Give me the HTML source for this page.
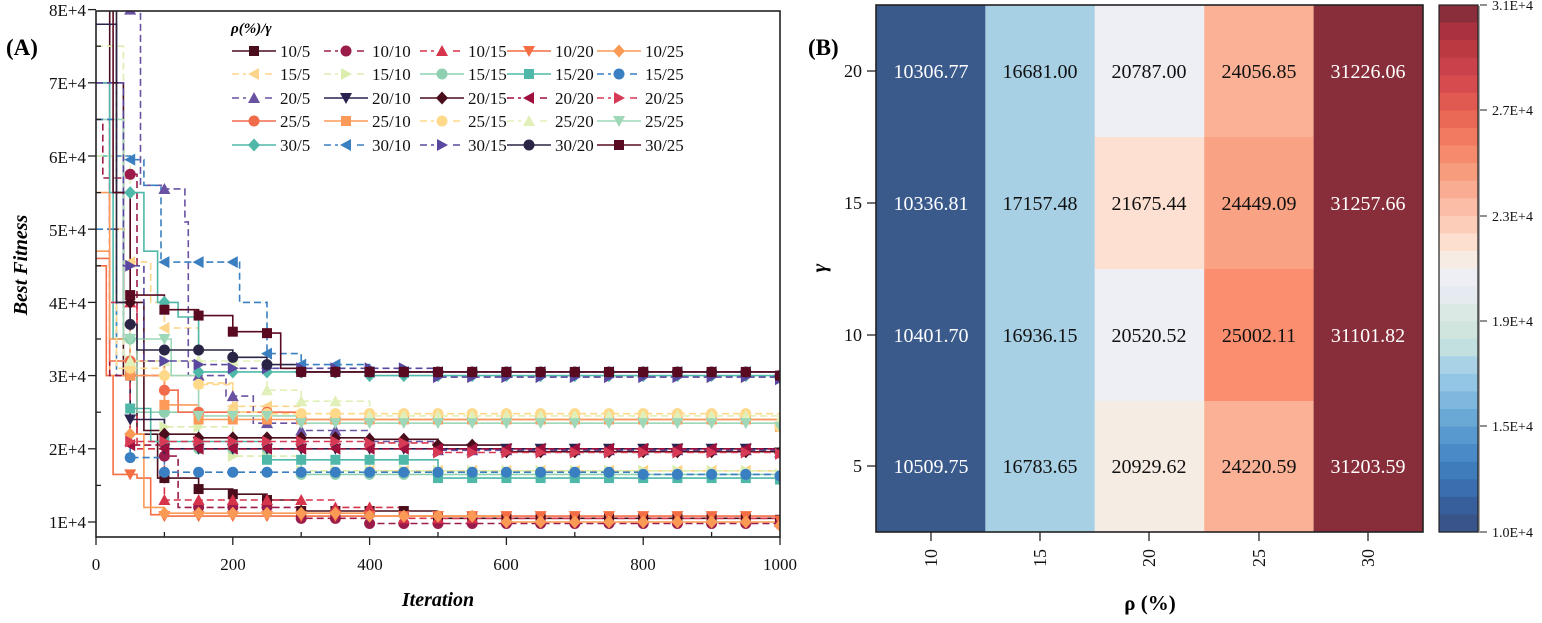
<!DOCTYPE html>
<html><head><meta charset="utf-8">
<style>
html,body{margin:0;padding:0;background:#fff;}
svg, svg text{font-family:"Liberation Serif","Times New Roman","DejaVu Serif",serif;}
</style></head>
<body>
<svg id="s" width="1542" height="618" viewBox="0 0 1542 618" xmlns="http://www.w3.org/2000/svg" font-family="Liberation Serif, DejaVu Serif, serif">
<defs><clipPath id="cp"><rect x="96" y="11" width="684" height="526"/></clipPath></defs>
<g id="series" clip-path="url(#cp)"></g>
<rect x="96" y="11" width="684" height="526" fill="none" stroke="#222" stroke-width="1.6"/>
<g id="ticks" stroke="#222" stroke-width="1.3"></g>
<g font-size="17" fill="#111" text-anchor="end">
<text x="86" y="16">8E+4</text><text x="86" y="89">7E+4</text><text x="86" y="163">6E+4</text><text x="86" y="236">5E+4</text><text x="86" y="309">4E+4</text><text x="86" y="382">3E+4</text><text x="86" y="455">2E+4</text><text x="86" y="528">1E+4</text>
</g>
<g font-size="17" fill="#111" text-anchor="middle">
<text x="96" y="570">0</text><text x="233" y="570">200</text><text x="370" y="570">400</text><text x="506" y="570">600</text><text x="643" y="570">800</text><text x="780" y="570">1000</text>
</g>
<text x="438" y="606" font-size="20" font-weight="bold" font-style="italic" text-anchor="middle">Iteration</text>
<text transform="translate(27,265) rotate(-90)" font-size="20" font-weight="bold" font-style="italic" text-anchor="middle">Best Fitness</text>
<text x="6" y="55" font-size="23" font-weight="bold">(A)</text>
<text x="231" y="33" font-size="15" font-weight="bold" font-style="italic">ρ(%)/γ</text>
<g id="legend" font-size="17" fill="#111">
<text x="280" y="57">10/5</text><text x="372" y="57">10/10</text><text x="468" y="57">10/15</text><text x="555" y="57">10/20</text><text x="645" y="57">10/25</text>
<text x="280" y="80">15/5</text><text x="372" y="80">15/10</text><text x="468" y="80">15/15</text><text x="555" y="80">15/20</text><text x="645" y="80">15/25</text>
<text x="280" y="104">20/5</text><text x="372" y="104">20/10</text><text x="468" y="104">20/15</text><text x="555" y="104">20/20</text><text x="645" y="104">20/25</text>
<text x="280" y="127">25/5</text><text x="372" y="127">25/10</text><text x="468" y="127">25/15</text><text x="555" y="127">25/20</text><text x="645" y="127">25/25</text>
<text x="280" y="151">30/5</text><text x="372" y="151">30/10</text><text x="468" y="151">30/15</text><text x="555" y="151">30/20</text><text x="645" y="151">30/25</text>
</g>
<g id="leglines"></g>

<text x="808" y="55" font-size="23" font-weight="bold">(B)</text>
<g>
<rect x="876" y="5" width="109.4" height="527" fill="#3a5a8c"/>
<rect x="985.4" y="5" width="109.4" height="527" fill="#a8d0e4"/>
<rect x="1094.8" y="5" width="109.4" height="132" fill="#eeeff4"/>
<rect x="1094.8" y="137" width="109.4" height="132" fill="#fde0d2"/>
<rect x="1094.8" y="269" width="109.4" height="132" fill="#eeeff4"/>
<rect x="1094.8" y="401" width="109.4" height="131" fill="#f5ece4"/>
<rect x="1204.2" y="5" width="109.4" height="132" fill="#fbb196"/>
<rect x="1204.2" y="137" width="109.4" height="132" fill="#f9a284"/>
<rect x="1204.2" y="269" width="109.4" height="132" fill="#fb8e6e"/>
<rect x="1204.2" y="401" width="109.4" height="131" fill="#fbb196"/>
<rect x="1313.6" y="5" width="109.4" height="527" fill="#872e3a"/>
<rect x="876" y="5" width="547" height="527" fill="none" stroke="#222" stroke-width="1.6"/>
</g>
<g font-size="20" text-anchor="middle">
<g fill="#fff"><text x="931" y="78">10306.77</text><text x="931" y="210">10336.81</text><text x="931" y="342">10401.70</text><text x="931" y="473">10509.75</text>
<text x="1368" y="78">31226.06</text><text x="1368" y="210">31257.66</text><text x="1368" y="342">31101.82</text><text x="1368" y="473">31203.59</text></g>
<g fill="#111"><text x="1040" y="78">16681.00</text><text x="1040" y="210">17157.48</text><text x="1040" y="342">16936.15</text><text x="1040" y="473">16783.65</text>
<text x="1149" y="78">20787.00</text><text x="1149" y="210">21675.44</text><text x="1149" y="342">20520.52</text><text x="1149" y="473">20929.62</text>
<text x="1259" y="78">24056.85</text><text x="1259" y="210">24449.09</text><text x="1259" y="342">25002.11</text><text x="1259" y="473">24220.59</text></g>
</g>
<g stroke="#222" stroke-width="1.3">
<line x1="867" y1="71" x2="876" y2="71"/><line x1="867" y1="203" x2="876" y2="203"/><line x1="867" y1="335" x2="876" y2="335"/><line x1="867" y1="466" x2="876" y2="466"/>
<line x1="931" y1="532" x2="931" y2="541"/><line x1="1040" y1="532" x2="1040" y2="541"/><line x1="1149" y1="532" x2="1149" y2="541"/><line x1="1259" y1="532" x2="1259" y2="541"/><line x1="1368" y1="532" x2="1368" y2="541"/>
</g>
<g font-size="18" fill="#111" text-anchor="end">
<text x="862" y="77">20</text><text x="862" y="209">15</text><text x="862" y="341">10</text><text x="862" y="472">5</text>
</g>
<g font-size="18" fill="#111" text-anchor="middle">
<text transform="translate(937,558) rotate(-90)">10</text>
<text transform="translate(1046,558) rotate(-90)">15</text>
<text transform="translate(1155,558) rotate(-90)">20</text>
<text transform="translate(1265,558) rotate(-90)">25</text>
<text transform="translate(1374,558) rotate(-90)">30</text>
</g>
<text x="1150" y="610" font-size="21" font-weight="bold" text-anchor="middle">ρ (%)</text>
<text transform="translate(826,268) rotate(-90)" font-size="21" font-weight="bold" font-style="italic" text-anchor="middle">γ</text>

<g id="cbar"></g>
<rect x="1478" y="6" width="2" height="527" fill="#aaa"/>
<rect x="1439" y="5" width="39" height="527" fill="none" stroke="#222" stroke-width="1.2"/>
<g stroke="#222" stroke-width="1"><line x1="1480" y1="5" x2="1487" y2="5"/><line x1="1480" y1="110" x2="1487" y2="110"/><line x1="1480" y1="216" x2="1487" y2="216"/><line x1="1480" y1="321" x2="1487" y2="321"/><line x1="1480" y1="426" x2="1487" y2="426"/><line x1="1480" y1="532" x2="1487" y2="532"/></g>
<g font-size="14" fill="#111">
<text x="1492" y="10">3.1E+4</text><text x="1492" y="115">2.7E+4</text><text x="1492" y="221">2.3E+4</text><text x="1492" y="326">1.9E+4</text><text x="1492" y="431">1.5E+4</text><text x="1492" y="537">1.0E+4</text>
</g>
</svg>
<script>
(function(){
var NS="http://www.w3.org/2000/svg";
function X(i){return 96+0.684*i;}
function Y(v){return 522-(v-10000)*0.00732;}
function el(t,a,p){var e=document.createElementNS(NS,t);for(var k in a)e.setAttribute(k,a[k]);p.appendChild(e);return e;}
var S=[
["#4a0d1c",0,"s",[[0,80000],[20,50000],[40,30000],[60,22000],[90,16000],[150,14500],[200,13800],[250,13000],[300,11500],[500,10500],[1000,10300]]],
["#9b1b4a",1,"c",[[0,65000],[10,57000],[50,57500],[60,30000],[100,19000],[120,12000],[300,10500],[400,9800],[1000,9700]]],
["#d6344a",1,"u",[[0,70000],[30,40000],[60,20000],[100,13000],[350,12000],[450,10500],[1000,10000]]],
["#f46d43",0,"d",[[0,45000],[15,30000],[25,16500],[60,16000],[80,11000],[100,10800],[1000,10200]]],
["#fb9a55",0,"m",[[0,47000],[20,30000],[50,22000],[70,12000],[100,11200],[400,10800],[600,10000],[1000,9500]]],
["#fdd58a",1,"l",[[0,80000],[30,50000],[50,45500],[80,40000],[100,36500],[150,29000],[200,25800],[300,20000],[400,17000],[1000,16500]]],
["#dcedb0",1,"r",[[0,75000],[40,32000],[100,23000],[200,19000],[300,17000],[1000,16500]]],
["#8fd0b0",0,"c",[[0,70000],[30,35000],[60,25000],[150,20000],[300,16500],[1000,16000]]],
["#4fb8a8",0,"s",[[0,60000],[25,35000],[50,25500],[80,21000],[250,18500],[500,16000],[1000,15800]]],
["#3a7fc1",1,"c",[[0,50000],[30,30000],[50,18800],[100,16800],[800,16500],[1000,16300]]],
["#6a52a3",1,"u",[[0,80000],[60,85000],[65,56000],[100,55500],[130,51000],[135,30000],[190,27200],[230,23500],[300,22500],[400,21000],[500,19800],[1000,19500]]],
["#2a2350",0,"d",[[0,78000],[30,55000],[50,24000],[100,20000],[1000,19500]]],
["#4a0d1c",0,"m",[[0,70000],[40,40000],[70,22500],[100,22000],[150,21500],[400,21300],[500,20500],[600,19600],[1000,19500]]],
["#a0103c",1,"l",[[0,65000],[20,30000],[50,20500],[100,20000],[1000,19300]]],
["#d63a55",1,"r",[[0,65000],[20,40000],[50,21000],[100,21000],[400,20800],[500,19500],[1000,19300]]],
["#f06c4a",0,"c",[[0,46000],[20,32000],[100,28000],[120,25000],[300,24000],[1000,23000]]],
["#fd9a5a",0,"s",[[0,55000],[20,35000],[50,30000],[100,26000],[150,24000],[1000,23000]]],
["#fed98a",1,"c",[[0,70000],[30,31000],[100,30000],[150,28800],[200,25000],[250,24800],[1000,23000]]],
["#e0f0b8",1,"u",[[0,60000],[50,32000],[250,28000],[300,26500],[400,24500],[1000,24000]]],
["#9fd8b8",0,"d",[[0,65000],[40,35000],[110,30000],[150,24500],[300,23500],[1000,23000]]],
["#4fb8a8",0,"m",[[0,70000],[20,55000],[55,55000],[70,47000],[90,40000],[120,38000],[150,30500],[400,30000],[1000,29700]]],
["#3a80c0",1,"l",[[0,65000],[30,60000],[50,59500],[70,56000],[95,45500],[160,45500],[210,40000],[250,33000],[300,31500],[400,30500],[1000,29600]]],
["#5a48a0",1,"r",[[0,70000],[40,45000],[70,32000],[100,32000],[150,31500],[200,31000],[500,29800],[1000,29500]]],
["#2a2545",0,"c",[[0,80000],[30,40000],[50,37000],[60,33500],[150,33500],[200,32500],[250,31500],[300,30500],[1000,30000]]],
["#5a0a20",0,"s",[[0,85000],[25,55000],[50,41000],[100,39000],[150,38200],[200,36000],[250,35800],[270,31000],[300,30500],[1000,30000]]]
];
function marker(g,t,x,y,c,r){
 if(t=="s")el("rect",{x:x-r,y:y-r,width:2*r,height:2*r,fill:c},g);
 else if(t=="c")el("circle",{cx:x,cy:y,r:r+0.5,fill:c},g);
 else{var p;
  if(t=="u")p=[[x,y-r-1],[x+r+1,y+r],[x-r-1,y+r]];
  if(t=="d")p=[[x,y+r+1],[x+r+1,y-r],[x-r-1,y-r]];
  if(t=="l")p=[[x-r-1,y],[x+r,y-r-1],[x+r,y+r+1]];
  if(t=="r")p=[[x+r+1,y],[x-r,y-r-1],[x-r,y+r+1]];
  if(t=="m")p=[[x,y-r-1.5],[x+r+1,y],[x,y+r+1.5],[x-r-1,y]];
  el("polygon",{points:p.map(function(a){return a.join(",")}).join(" "),fill:c},g);}
}
var G=document.getElementById("series");
S.forEach(function(s){
 var pts=s[3],d="M"+X(pts[0][0])+","+Y(pts[0][1]);
 for(var k=1;k<pts.length;k++){d+="H"+X(pts[k][0]).toFixed(1)+"V"+Y(pts[k][1]).toFixed(1);}
 el("path",{d:d,fill:"none",stroke:s[0],"stroke-width":1.6,"stroke-dasharray":s[1]?"7,4":"none"},G);
});
S.forEach(function(s){
 var pts=s[3];
 for(var i=50;i<=1000;i+=50){var v=pts[0][1];for(var k=0;k<pts.length;k++)if(pts[k][0]<=i)v=pts[k][1];
  marker(G,s[2],X(i),Y(v),s[0],5);}
});
var L=document.getElementById("leglines");
var cx=[232,324,420,507,597],cy=[51,74,98,121,145];
S.forEach(function(s,n){var r=Math.floor(n/5),c=n%5,x=cx[c],y=cy[r];
 el("line",{x1:x,y1:y,x2:x+44,y2:y,stroke:s[0],"stroke-width":1.6,"stroke-dasharray":s[1]?"7,4":"none"},L);
 if(s[1])el("rect",{x:x+14,y:y-2,width:16,height:4,fill:"#fff"},L);
 marker(L,s[2],x+22,y,s[0],5);});
var T=document.getElementById("ticks");
for(var v=10000;v<=80000;v+=10000)el("line",{x1:88,y1:Y(v),x2:96,y2:Y(v)},T);
for(var v=15000;v<=75000;v+=10000)el("line",{x1:96,y1:Y(v),x2:101,y2:Y(v)},T);
for(var i=0;i<=1000;i+=200)el("line",{x1:X(i),y1:537,x2:X(i),y2:545},T);
for(var i=100;i<=900;i+=200)el("line",{x1:X(i),y1:537,x2:X(i),y2:532},T);
var cols=["#8b2e3c","#a8323e","#bb3a42","#c9414a","#d64c4e","#e05a52","#ea6856","#f27a60","#f68a6c","#f89c7e","#f9ac92","#fbbda6","#fccdb8","#fddfcf","#f6ece4","#eeeff4","#e5ebf0","#dbe9e4","#d0e5de","#c2e0e0","#a9d2e6","#93c6e4","#7fb8de","#6aa8d6","#589acf","#4a8ac6","#3f7cbc","#3a6eae","#375f9c","#385489"];
var B=document.getElementById("cbar"),h=527/cols.length;
cols.forEach(function(c,k){el("rect",{x:1439,y:5+k*h,width:39,height:h+0.6,fill:c},B);});
})();
</script>
</body></html>
